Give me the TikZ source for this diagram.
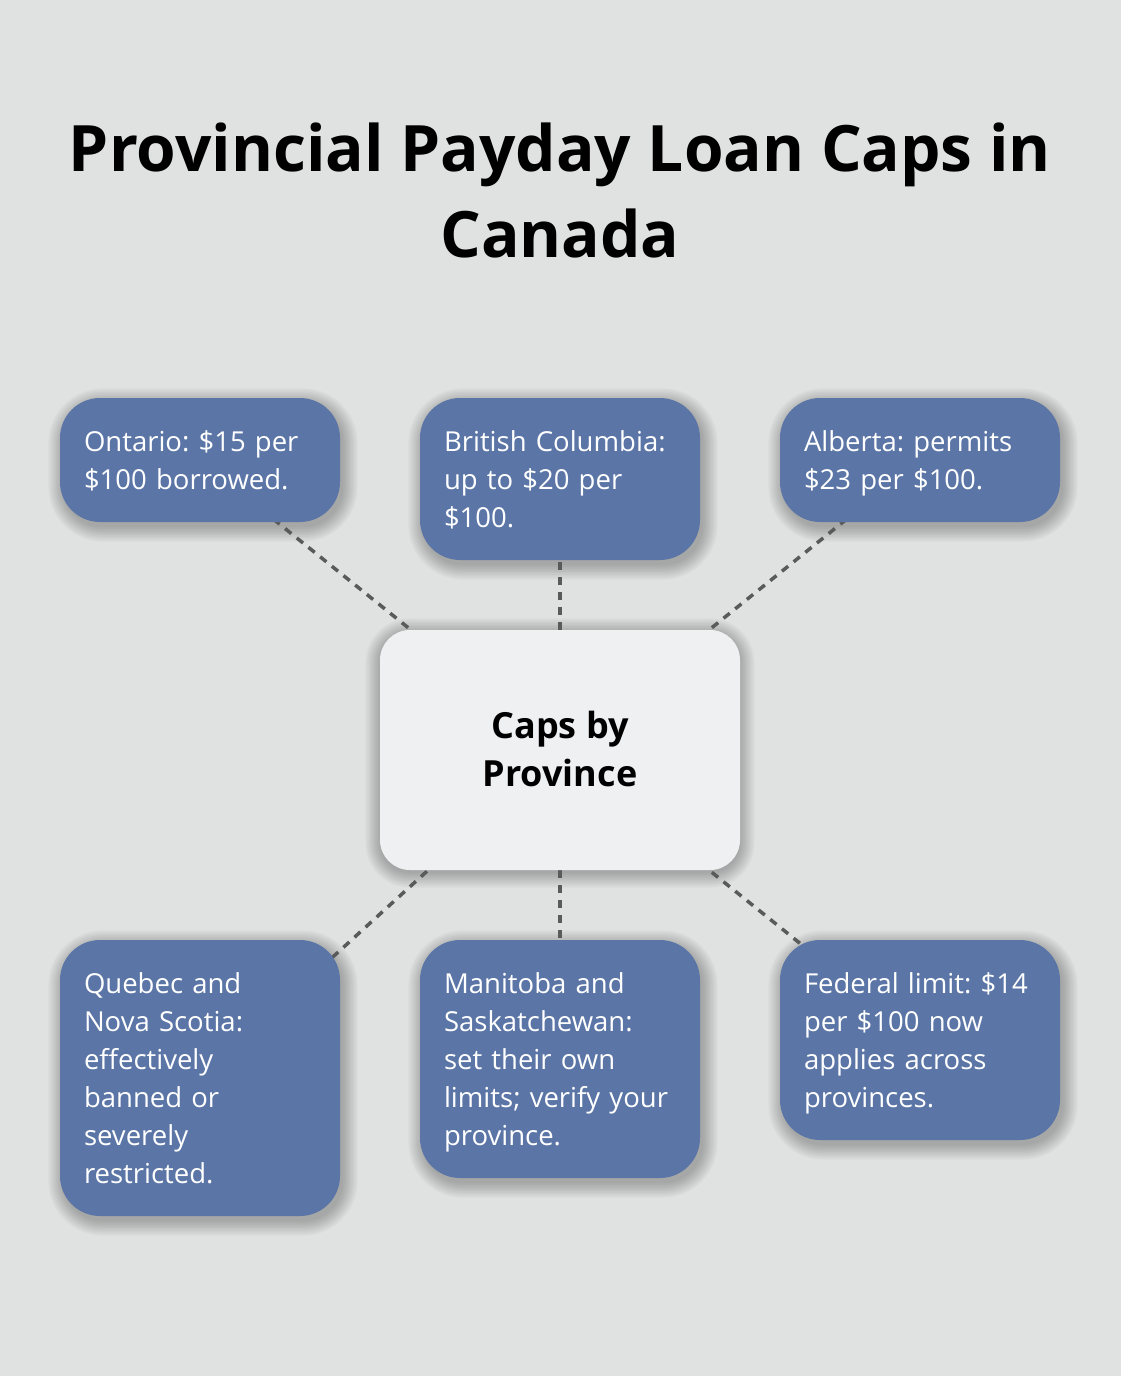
\documentclass[tikz,border=0pt]{standalone}
\usepackage{fontspec}
\setmainfont{Open Sans}
\definecolor{bgc}{HTML}{E0E2E1}
\definecolor{boxblue}{HTML}{5B76A6}
\definecolor{centerfill}{HTML}{EFF0F2}
\definecolor{linec}{HTML}{5A5A5A}
\pgfdeclarelayer{bglayer}
\pgfdeclarelayer{shadowlayer}
\pgfdeclarelayer{linelayer}
\pgfsetlayers{bglayer,shadowlayer,linelayer,main}
\newcommand\bstrut{\rule[-8.5pt]{0pt}{38pt}}
\newcommand\cstrut{\rule[-12pt]{0pt}{48pt}}
% soft shadow: node, corner radius, x offset, y offset (y down)
\newcommand\softshadow[4]{%
  \foreach \k in {0,...,9}{%
    \pgfmathsetmacro\dd{\k*1.6}%
    \pgfmathsetmacro\rr{#2+\k*1.6}%
    \fill[black, opacity=0.026, rounded corners=\rr pt]
      ([shift={(#3-\dd,#4-\dd)}]#1.north west) rectangle ([shift={(#3+\dd,#4+\dd)}]#1.south east);
  }}
\tikzset{
  bluebox/.style={fill=boxblue, rounded corners=40pt, minimum width=280pt, text width=232pt,
    inner xsep=24pt, inner ysep=0pt, align=left, text=white,
    font=\fontsize{27.5}{38}\selectfont\frenchspacing},
  centerbox/.style={fill=centerfill, rounded corners=30pt, minimum width=360pt, minimum height=240pt,
    inner sep=0pt, align=center, font=\fontsize{36}{48}\selectfont\bfseries, text=black},
  conn/.style={draw=linec, line width=3.5pt, dash pattern=on 8pt off 7pt},
  titlestyle/.style={align=center, font=\fontsize{64}{86}\selectfont\bfseries, text=black}
}
\begin{document}
\begin{tikzpicture}[x=1pt,y=-1pt]
\useasboundingbox (0,0) rectangle (1120,1376);
\node[titlestyle] (title) at (560,190) {Provincial Payday Loan Caps in\\Canada};
\node[centerbox] (c) at (560,750) {\cstrut Caps by\\Province\cstrut};
\node[bluebox, minimum height=124pt] (on) at (200,460) {\bstrut Ontario: \$15 per\\\$100 borrowed.\bstrut};
\node[bluebox, minimum height=162pt] (bc) at (560,479) {\bstrut British Columbia:\\up to \$20 per\\\$100.\bstrut};
\node[bluebox, minimum height=124pt] (ab) at (920,460) {\bstrut Alberta: permits\\\$23 per \$100.\bstrut};
\node[bluebox, minimum height=276pt] (qc) at (200,1078) {\bstrut Quebec and\\Nova Scotia:\\effectively\\banned or\\severely\\restricted.\bstrut};
\node[bluebox, minimum height=238pt] (mb) at (560,1059) {\bstrut Manitoba and\\Saskatchewan:\\set their own\\limits; verify your\\province.\bstrut};
\node[bluebox, minimum height=200pt] (fd) at (920,1040) {\bstrut Federal limit: \$14\\per \$100 now\\applies across\\provinces.\bstrut};
\begin{pgfonlayer}{bglayer}
\fill[bgc] (-20,-20) rectangle (1160,1400);
\end{pgfonlayer}
\begin{pgfonlayer}{shadowlayer}
\softshadow{c}{30}{0}{3}
\softshadow{on}{40}{3}{5}
\softshadow{bc}{40}{3}{5}
\softshadow{ab}{40}{3}{5}
\softshadow{qc}{40}{3}{5}
\softshadow{mb}{40}{3}{5}
\softshadow{fd}{40}{3}{5}
\end{pgfonlayer}
\begin{pgfonlayer}{linelayer}
\draw[conn] (c.center) -- (on.center);
\draw[conn] (c.center) -- (bc.center);
\draw[conn] (c.center) -- (ab.center);
\draw[conn] (c.center) -- (qc.center);
\draw[conn] (c.center) -- (mb.center);
\draw[conn] (c.center) -- (fd.center);
\end{pgfonlayer}
\end{tikzpicture}
\end{document}
